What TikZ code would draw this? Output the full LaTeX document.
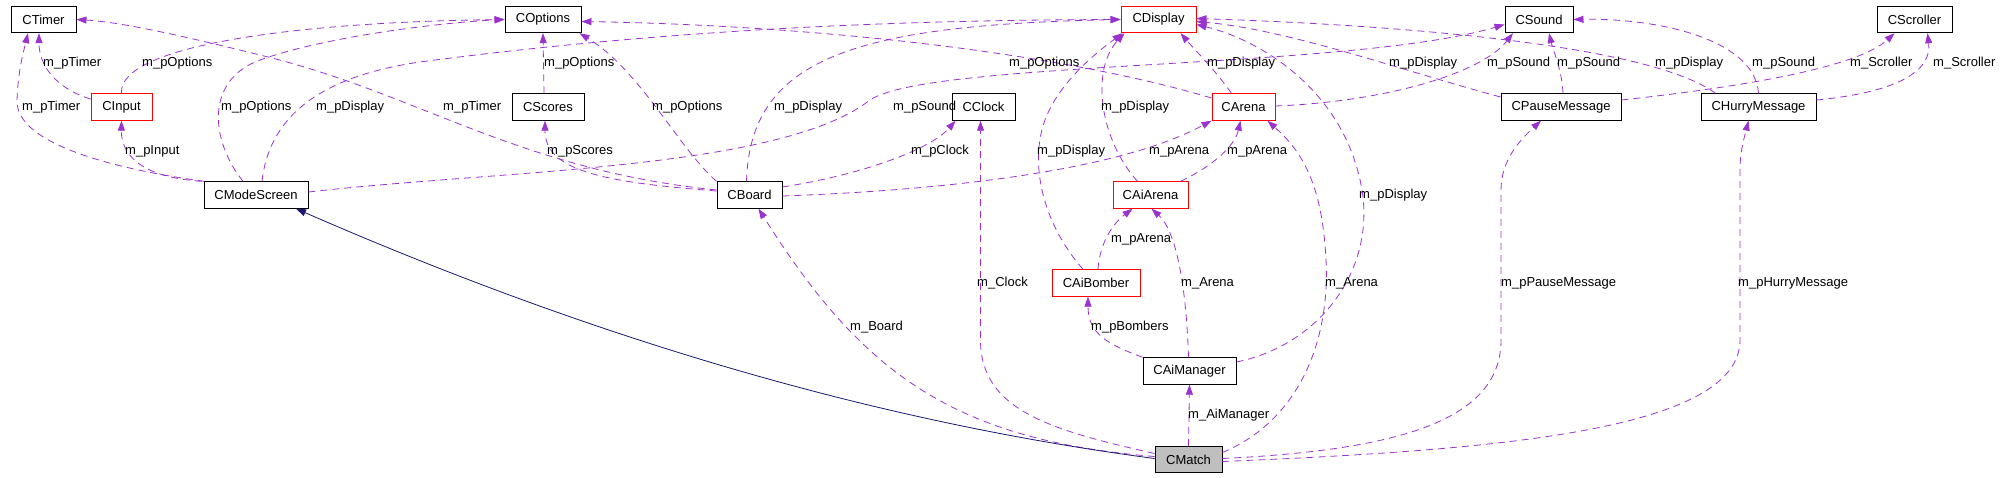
\documentclass[tikz,border=0pt]{standalone}
\usepackage{fontspec}
\setmainfont{Liberation Sans}
\usetikzlibrary{arrows.meta}
\definecolor{edgec}{HTML}{9A32CD}
\definecolor{inhc}{HTML}{191970}
\definecolor{gfill}{HTML}{BFBFBF}
\begin{document}
\begin{tikzpicture}[x=1pt,y=-1pt,
  box/.style={draw=black,line width=0.9pt,fill=white,minimum height=26.5pt,inner sep=0pt,font=\fontsize{13}{15}\selectfont},
  redbox/.style={box,draw=red},
  lbl/.style={anchor=west,inner sep=0pt,font=\fontsize{13}{15}\selectfont},
  edge/.style={draw=edgec,line width=0.8pt,dash pattern=on 7pt off 5pt,-{Triangle[length=10pt,width=7pt]}},
  inh/.style={draw=inhc,line width=0.8pt,-{Triangle[length=10pt,width=7pt]}}]
\useasboundingbox (0,0) rectangle (2000,477);

% nodes
\node[box,minimum width=65pt] (CTimer) at (43.5,19.5) {CTimer};
\node[box,minimum width=76pt] (COptions) at (543,19.5) {COptions};
\node[redbox,minimum width=75pt] (CDisplay) at (1158.5,19.5) {CDisplay};
\node[box,minimum width=68pt] (CSound) at (1539,19.5) {CSound};
\node[box,minimum width=75pt] (CScroller) at (1914.5,19.5) {CScroller};
\node[redbox,minimum width=61pt] (CInput) at (121.5,107) {CInput};
\node[box,minimum width=72pt] (CScores) at (548,107) {CScores};
\node[box,minimum width=63pt] (CClock) at (983.5,107) {CClock};
\node[redbox,minimum width=63pt] (CArena) at (1243.5,107) {CArena};
\node[box,minimum width=120pt] (CPauseMessage) at (1561,107) {CPauseMessage};
\node[box,minimum width=115pt] (CHurryMessage) at (1758.5,107) {CHurryMessage};
\node[box,minimum width=104pt] (CModeScreen) at (256,195) {CModeScreen};
\node[box,minimum width=65pt] (CBoard) at (749.5,195) {CBoard};
\node[redbox,minimum width=75pt] (CAiArena) at (1150.5,195) {CAiArena};
\node[redbox,minimum width=88pt] (CAiBomber) at (1096,283) {CAiBomber};
\node[box,minimum width=93pt] (CAiManager) at (1189.5,371) {CAiManager};
\node[box,fill=gfill,minimum width=67pt] (CMatch) at (1188.5,459.5) {CMatch};

% edges
\draw[edge] ([yshift=8pt]CInput.west) .. controls (55,88) and (39,65) .. ([xshift=-4.5pt]CTimer.south);
\draw[edge] ([xshift=1pt]CModeScreen.north west) .. controls (120,170) and (15,145) .. (17,100) .. controls (18,70) and (24,50) .. ([xshift=-15.5pt]CTimer.south);
\draw[edge] ([xshift=-2pt]CModeScreen.north west) .. controls (150,178) and (121,160) .. (CInput.south);
\draw[edge] (CInput.north) .. controls (118,45) and (300,22) .. (COptions.west);
\draw[edge] ([xshift=-13pt]CModeScreen.north) .. controls (210,140) and (205,80) .. (260,60) .. controls (330,35) and (450,22) .. (COptions.west);
\draw[edge] ([xshift=6pt]CModeScreen.north) .. controls (270,110) and (330,75) .. (420,62) .. controls (700,25) and (950,20) .. (CDisplay.west);
\draw[edge] ([yshift=5pt]CBoard.west) .. controls (520,170) and (420,95) .. (268,57) .. controls (180,35) and (120,22) .. (CTimer.east);
\draw[edge] ([xshift=-4pt]CScores.north) -- (COptions.south);
\draw[edge] ([yshift=4pt]CBoard.west) .. controls (600,182) and (545,170) .. ([xshift=-3pt]CScores.south);
\draw[edge] ([yshift=3pt]CModeScreen.east) .. controls (500,170) and (780,170) .. (870,100) .. controls (930,60) and (1350,70) .. ([yshift=-5pt]CSound.west);
\draw[edge] (CBoard.north west) .. controls (680,150) and (640,70) .. ([xshift=-2pt]COptions.south east);
\draw[edge] ([xshift=-3pt]CBoard.north) .. controls (750,60) and (850,25) .. (CDisplay.west);
\draw[edge] ([yshift=8pt]CBoard.east) .. controls (860,175) and (930,150) .. ([xshift=-28pt]CClock.south);
\draw[edge] ([yshift=-1pt]CBoard.east) .. controls (950,190) and (1120,170) .. (CArena.south west);
\draw[edge] ([yshift=9pt]CArena.west) .. controls (1050,50) and (800,25) .. ([yshift=-2pt]COptions.east);
\draw[edge] ([xshift=-12pt]CArena.north) .. controls (1215,70) and (1195,50) .. ([xshift=22pt]CDisplay.south);
\draw[edge] ([yshift=1pt]CArena.east) .. controls (1380,102) and (1480,75) .. ([xshift=-26pt]CSound.south);
\draw[edge] ([xshift=-13pt]CAiArena.north) .. controls (1100,140) and (1090,70) .. ([xshift=-34pt]CDisplay.south);
\draw[edge] ([xshift=-13pt]CAiBomber.north) .. controls (1040,220) and (1030,160) .. (1045,120) .. controls (1060,80) and (1100,50) .. ([xshift=-36pt]CDisplay.south);
\draw[edge] ([xshift=30pt]CAiArena.north) .. controls (1215,165) and (1235,145) .. ([xshift=-3pt]CArena.south);
\draw[edge] ([xshift=2pt]CAiBomber.north) .. controls (1100,240) and (1115,222) .. ([xshift=-18pt]CAiArena.south);
\draw[edge] ([xshift=-1pt]CAiManager.north) .. controls (1186,280) and (1175,230) .. ([xshift=1pt]CAiArena.south);
\draw[edge] (CAiManager.north west) .. controls (1110,345) and (1088,335) .. ([xshift=-8pt]CAiBomber.south);
\draw[edge] ([yshift=9pt]CAiManager.east) .. controls (1320,345) and (1375,270) .. (1362,190) .. controls (1345,90) and (1260,40) .. ([yshift=-5pt]CDisplay.east);
\draw[edge] ([yshift=7pt]CMatch.east) .. controls (1300,420) and (1330,340) .. (1326,260) .. controls (1322,180) and (1300,150) .. ([xshift=24pt]CArena.south);
\draw[edge] ([yshift=6pt]CMatch.west) .. controls (1050,430) and (980.5,410) .. (980.5,340) -- ([xshift=-3pt]CClock.south);
\draw[edge] ([yshift=3pt]CMatch.west) .. controls (950,440) and (860,370) .. ([xshift=9pt]CBoard.south);
\draw[inh] ([yshift=1pt]CMatch.west) .. controls (900,425) and (620,350) .. ([xshift=40pt]CModeScreen.south);
\draw[edge] (CMatch.north) -- (CAiManager.south);
\draw[edge] ([yshift=1pt]CMatch.east) .. controls (1400,450) and (1501,420) .. (1501,340) -- (1501,190) .. controls (1501,160) and (1520,140) .. ([xshift=-20pt]CPauseMessage.south);
\draw[edge] ([yshift=-2pt]CMatch.east) .. controls (1500,450) and (1740,430) .. (1740,340) -- (1740,170) .. controls (1740,150) and (1745,135) .. ([xshift=-10pt]CHurryMessage.south);
\draw[edge] ([yshift=10pt]CPauseMessage.west) .. controls (1400,70) and (1290,30) .. ([yshift=-2pt]CDisplay.east);
\draw[edge] ([xshift=2pt]CPauseMessage.north) .. controls (1562,70) and (1553,50) .. ([xshift=10pt]CSound.south);
\draw[edge] ([yshift=7pt]CPauseMessage.east) .. controls (1760,85) and (1860,65) .. ([xshift=-20pt]CScroller.south);
\draw[edge] ([xshift=-43pt]CHurryMessage.north) .. controls (1650,45) and (1400,25) .. ([yshift=1pt]CDisplay.east);
\draw[edge] (CHurryMessage.north) .. controls (1755,40) and (1660,18) .. (CSound.east);
\draw[edge] ([yshift=7pt]CHurryMessage.east) .. controls (1900,92) and (1932,70) .. ([xshift=13pt]CScroller.south);

% labels
\node[lbl] (l1) at (43,63) {m\_pTimer};
\node[lbl] (l2) at (22,107) {m\_pTimer};
\node[lbl] (l3) at (125,151) {m\_pInput};
\node[lbl] (l4) at (142,63) {m\_pOptions};
\node[lbl] (l5) at (221,107) {m\_pOptions};
\node[lbl] (l6) at (316,107) {m\_pDisplay};
\node[lbl] (l7) at (443,107) {m\_pTimer};
\node[lbl] (l8) at (544,63) {m\_pOptions};
\node[lbl] (l9) at (547,151) {m\_pScores};
\node[lbl] (l10) at (893,107) {m\_pSound};
\node[lbl] (l11) at (652,107) {m\_pOptions};
\node[lbl] (l12) at (774,107) {m\_pDisplay};
\node[lbl] (l13) at (911,151) {m\_pClock};
\node[lbl] (l14) at (1149,151) {m\_pArena};
\node[lbl] (l15) at (1009,63) {m\_pOptions};
\node[lbl] (l16) at (1207,63) {m\_pDisplay};
\node[lbl] (l17) at (1487,63) {m\_pSound};
\node[lbl] (l18) at (1101,107) {m\_pDisplay};
\node[lbl] (l19) at (1037,151) {m\_pDisplay};
\node[lbl] (l20) at (1227,151) {m\_pArena};
\node[lbl] (l21) at (1111,239) {m\_pArena};
\node[lbl] (l22) at (1181,283) {m\_Arena};
\node[lbl] (l23) at (1091,327) {m\_pBombers};
\node[lbl] (l24) at (1359,195) {m\_pDisplay};
\node[lbl] (l25) at (1325,283) {m\_Arena};
\node[lbl] (l26) at (977,283) {m\_Clock};
\node[lbl] (l27) at (850,327) {m\_Board};
\node[lbl] (l29) at (1188,415) {m\_AiManager};
\node[lbl] (l30) at (1501,283) {m\_pPauseMessage};
\node[lbl] (l31) at (1738,283) {m\_pHurryMessage};
\node[lbl] (l32) at (1389,63) {m\_pDisplay};
\node[lbl] (l33) at (1557,63) {m\_pSound};
\node[lbl] (l34) at (1850,63) {m\_Scroller};
\node[lbl] (l35) at (1655,63) {m\_pDisplay};
\node[lbl] (l36) at (1752,63) {m\_pSound};
\node[lbl] (l37) at (1933,63) {m\_Scroller};
\end{tikzpicture}
\end{document}
